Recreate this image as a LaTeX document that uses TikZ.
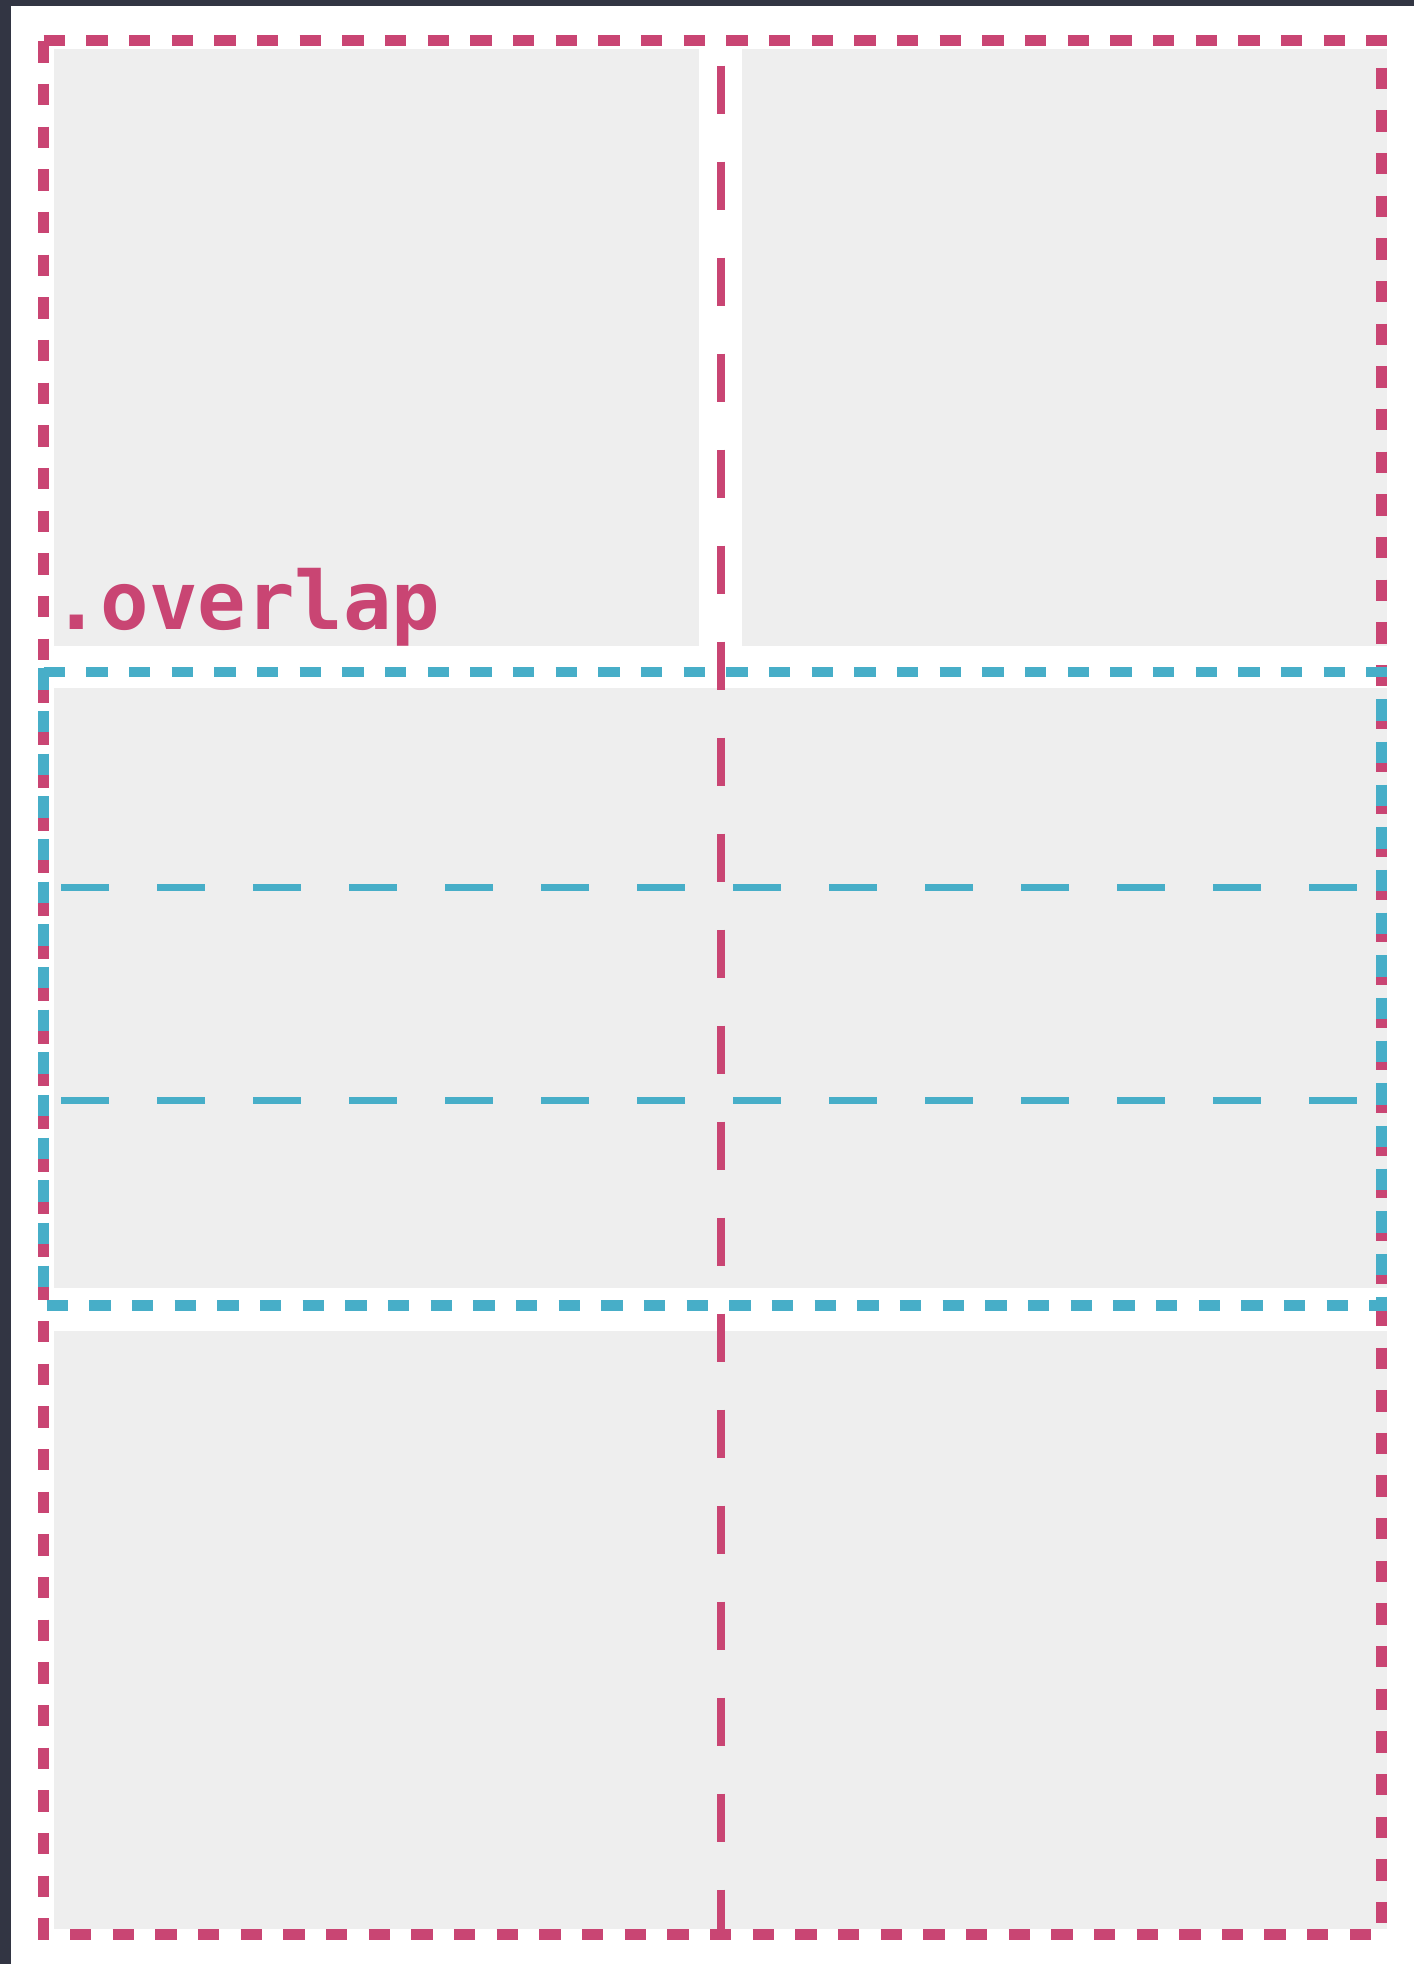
\documentclass[tikz,border=0pt]{standalone}
\usepackage{fontspec}
\newfontfamily\codefont{DejaVu Sans Mono}
\definecolor{framedark}{HTML}{323543}
\definecolor{gridpink}{HTML}{C94573}
\definecolor{gridcyan}{HTML}{47AEC8}
\definecolor{panelgray}{HTML}{EEEEEE}

\begin{document}
\begin{tikzpicture}[x=1pt,y=-1pt,
panel/.style={fill=panelgray},
outline pink/.style={draw=gridpink,line width=11pt,dash pattern=on 21.33pt off 21.33pt},
outline cyan/.style={draw=gridcyan,line width=10.5pt,dash pattern=on 21.33pt off 21.33pt},
track pink/.style={draw=gridpink,line width=8pt,dash pattern=on 48pt off 48pt},
track cyan/.style={draw=gridcyan,line width=7pt,dash pattern=on 48pt off 48pt},
area label/.style={inner sep=0pt,anchor=base west,text=gridpink,font=\codefont\bfseries\fontsize{80.6}{90}\selectfont}]
\useasboundingbox (0,0) rectangle (1414,1964);
\fill[white] (0,0) rectangle (1414,1964);
\fill[framedark] (0,0) rectangle (1414,6);
\fill[framedark] (0,0) rectangle (11,1964);
% grid areas
\fill[panel] (54,49) rectangle (699,646);
\fill[panel] (742,49) rectangle (1387,646);
\fill[panel] (54,688) rectangle (1387,1288);
\fill[panel] (54,1331) rectangle (1387,1929);
\node[area label] (overlaplabel) at (52,629) {.overlap};
% row and column tracks
\foreach \y in {887,1100.5}
  \draw[track cyan] (61,\y) -- (1376,\y);
\draw[track pink] (720.7,65.7) -- (720.7,1929);
% outer outline
\draw[outline pink] (43.7,40.5) -- (1387,40.5);
\draw[outline pink] (43.5,41.3) -- (43.5,1940);
\draw[outline pink] (1381.5,67.7) -- (1381.5,1924);
\draw[outline pink] (70,1934.5) -- (1371.5,1934.5);
% middle outline
\draw[outline cyan] (43.7,672) -- (1387,672);
\draw[outline cyan] (43.5,668.3) -- (43.5,1287);
\draw[outline cyan] (1381.5,699.3) -- (1381.5,1311);
\draw[outline cyan] (46.7,1305.5) -- (1387,1305.5);
\end{tikzpicture}
\end{document}
